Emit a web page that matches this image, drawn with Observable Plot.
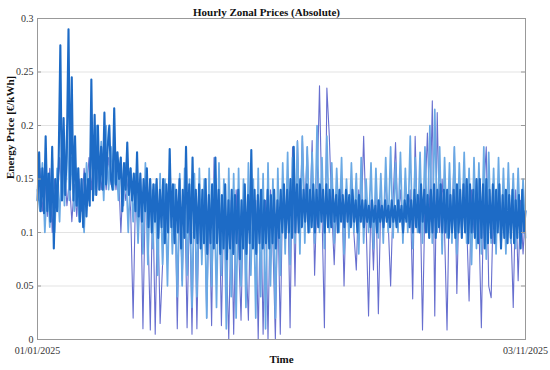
<!DOCTYPE html>
<html><head><meta charset="utf-8">
<script src="https://cdn.jsdelivr.net/npm/d3@7"></script>
<script src="https://cdn.jsdelivr.net/npm/@observablehq/plot@0.6"></script>
<style>body{margin:0;background:#fff}#chart svg{display:block}</style>
</head><body><div id="chart"></div>
<script>
const title = "Hourly Zonal Prices (Absolute)";
const xLabel = "Time";
const yLabel = "Energy Price [€/kWh]";
const startDate = "2025-01-01T00:00:00Z";
const endDate = "2025-11-03T00:00:00Z";
const yTicks = [0, 0.05, 0.1, 0.15, 0.2, 0.25, 0.3];
const zoneNames = ["Zone A", "Zone B", "Zone C"];

// Zone A (light blue), evenly spaced samples over the period
const zoneA = [
0.14,0.12,0.165,0.1,0.155,0.105,0.17,0.1,0.16,0.11,
0.18,0.125,0.2,0.13,0.17,0.12,0.16,0.11,0.15,0.1,
0.165,0.13,0.19,0.135,0.2,0.14,0.185,0.13,0.2,0.14,
0.18,0.14,0.175,0.13,0.17,0.125,0.165,0.1,0.16,0.11,
0.155,0.09,0.15,0.08,0.165,0.07,0.15,0.085,0.145,0.06,
0.155,0.07,0.15,0.05,0.16,0.08,0.145,0.04,0.155,0.05,
0.16,0.06,0.15,0.03,0.155,0.04,0.16,0.07,0.15,0.02,
0.16,0.05,0.15,0.03,0.165,0.06,0.15,0.01,0.16,0.04,
0.155,0.02,0.16,0.05,0.15,0.03,0.165,0.06,0.15,0.02,
0.16,0.04,0.155,0.01,0.165,0.05,0.15,0.02,0.16,0.06,
0.165,0.08,0.175,0.07,0.17,0.09,0.185,0.08,0.19,0.09,
0.18,0.1,0.175,0.09,0.2,0.1,0.17,0.085,0.19,0.1,
0.165,0.09,0.16,0.1,0.17,0.08,0.15,0.095,0.165,0.1,
0.155,0.08,0.17,0.09,0.15,0.1,0.165,0.085,0.16,0.095,
0.155,0.09,0.17,0.1,0.18,0.095,0.165,0.1,0.175,0.09,
0.16,0.1,0.19,0.085,0.17,0.1,0.175,0.09,0.18,0.1,
0.2,0.09,0.215,0.1,0.18,0.08,0.17,0.095,0.165,0.09,
0.18,0.08,0.165,0.1,0.175,0.09,0.16,0.07,0.17,0.085,
0.165,0.08,0.18,0.075,0.175,0.09,0.16,0.08,0.17,0.085,
0.16,0.08,0.165,0.09,0.155,0.085,0.16,0.09,0.15,0.095
];

// Zone B (violet blue)
const zoneB = [
0.13,0.16,0.12,0.15,0.115,0.16,0.1,0.15,0.12,0.17,
0.13,0.16,0.125,0.15,0.11,0.145,0.115,0.15,0.12,0.16,
0.135,0.17,0.14,0.18,0.135,0.17,0.14,0.165,0.14,0.17,
0.145,0.165,0.14,0.16,0.1,0.155,0.13,0.15,0.12,0.02,
0.14,0.1,0.15,0.01,0.14,0.11,0.009,0.14,0.005,0.13,
0.015,0.07,0.14,0.1,0.145,0.09,0.14,0.01,0.135,0.055,
0.14,0.011,0.13,0.005,0.14,0.01,0.13,0.09,0.14,0.02,
0.13,0.013,0.17,0.09,0.14,0.013,0.13,0.08,0,0.13,
0.005,0.14,0.09,0.018,0.13,0.08,0.018,0.14,0.09,0.13,
0,0.14,0.005,0.13,0,0.14,0.09,0,0.13,0.005,
0.14,0.1,0.15,0.011,0.18,0.05,0.186,0.11,0.19,0.12,
0.18,0.11,0.186,0.06,0.14,0.237,0.12,0.011,0.235,0.19,
0.12,0.07,0.14,0.11,0.15,0.05,0.14,0.11,0.145,0.1,
0.065,0.14,0.11,0.19,0.11,0.022,0.13,0.065,0.14,0.024,
0.13,0.1,0.15,0.11,0.05,0.13,0.184,0.11,0.14,0.1,
0.145,0.11,0.14,0.038,0.19,0.1,0.14,0.009,0.13,0.193,
0.11,0.223,0.022,0.212,0.1,0.15,0.1,0.009,0.14,0.11,
0.18,0.043,0.14,0.1,0.15,0.11,0.036,0.14,0.1,0.15,
0.11,0.011,0.14,0.18,0.05,0.039,0.14,0.1,0.15,0.11,
0.14,0.1,0.15,0.11,0.03,0.14,0.055,0.13,0.08,0.12
];

// Zone C (medium blue, dense core)
const zoneC = [
0.13,0.175,0.12,0.16,0.118,0.19,0.12,0.155,0.11,0.18,
0.085,0.15,0.12,0.17,0.275,0.13,0.207,0.135,0.18,0.29,
0.14,0.245,0.13,0.19,0.125,0.16,0.11,0.15,0.105,0.155,
0.115,0.15,0.125,0.243,0.13,0.21,0.135,0.2,0.14,0.18,
0.14,0.212,0.145,0.18,0.2,0.15,0.14,0.216,0.145,0.175,
0.15,0.17,0.12,0.165,0.14,0.184,0.135,0.16,0.13,0.155,
0.12,0.175,0.115,0.155,0.11,0.15,0.12,0.16,0.105,0.15,
0.1,0.145,0.11,0.15,0.095,0.14,0.105,0.15,0.09,0.145,
0.1,0.178,0.105,0.145,0.09,0.14,0.1,0.15,0.085,0.14,
0.095,0.18,0.1,0.145,0.09,0.17,0.095,0.14,0.09,0.145,
0.085,0.14,0.09,0.15,0.08,0.135,0.09,0.145,0.085,0.17,
0.09,0.14,0.08,0.135,0.085,0.145,0.075,0.13,0.085,0.14,
0.08,0.135,0.09,0.14,0.075,0.13,0.085,0.145,0.08,0.135,
0.09,0.177,0.085,0.14,0.08,0.135,0.09,0.14,0.085,0.13,
0.09,0.14,0.085,0.135,0.09,0.14,0.085,0.13,0.095,0.14,
0.1,0.145,0.095,0.14,0.1,0.15,0.095,0.18,0.1,0.145,
0.1,0.15,0.105,0.14,0.11,0.145,0.1,0.14,0.105,0.145,
0.1,0.14,0.105,0.145,0.11,0.14,0.1,0.145,0.105,0.14,
0.105,0.14,0.11,0.135,0.1,0.14,0.11,0.135,0.105,0.14,
0.11,0.135,0.105,0.14,0.11,0.13,0.1,0.135,0.11,0.13,
0.105,0.13,0.11,0.125,0.105,0.13,0.11,0.125,0.1,0.13,
0.11,0.125,0.105,0.13,0.11,0.125,0.105,0.13,0.11,0.125,
0.105,0.13,0.11,0.125,0.1,0.13,0.11,0.135,0.105,0.13,
0.1,0.14,0.105,0.135,0.1,0.145,0.11,0.14,0.1,0.135,
0.095,0.14,0.1,0.145,0.095,0.14,0.105,0.145,0.1,0.14,
0.1,0.14,0.095,0.135,0.1,0.14,0.095,0.145,0.1,0.14,
0.095,0.145,0.1,0.15,0.09,0.145,0.1,0.14,0.095,0.15,
0.09,0.15,0.095,0.145,0.085,0.15,0.09,0.14,0.095,0.145,
0.09,0.14,0.1,0.145,0.085,0.135,0.095,0.14,0.09,0.135,
0.095,0.14,0.09,0.13,0.095,0.135,0.085,0.14,0.1,0.12
];

const zoneColors = {"Zone A": "#6aa9e4", "Zone B": "#676fcf", "Zone C": "#1d6bc6"};
const zoneWidths = {"Zone A": 1.7, "Zone B": 1.1, "Zone C": 2.1};
const drawOrder = ["Zone B", "Zone A", "Zone C"];

const t0 = new Date(startDate), t1 = new Date(endDate);
function rows(name, values) {
  const n = values.length - 1;
  return values.map((v, i) => ({zone: name, time: new Date(+t0 + (t1 - t0) * i / n), price: v}));
}
const byZone = {"Zone A": rows("Zone A", zoneA), "Zone B": rows("Zone B", zoneB), "Zone C": rows("Zone C", zoneC)};

const plotW = 550, mL = 37, mR = 25;
const inner = plotW - mL - mR;

const chart = Plot.plot({
  width: plotW, height: 370,
  marginLeft: mL, marginRight: mR, marginTop: 18, marginBottom: 31,
  style: {fontFamily: "'Liberation Serif','Times New Roman',serif", fontSize: "10px", background: "#fff", color: "#222"},
  x: {type: "utc", domain: [t0, t1]},
  y: {domain: [0, 0.3]},
  marks: [
    Plot.gridY(yTicks, {stroke: "#e3e3e3", strokeOpacity: 1}),
    ...drawOrder.map(z => Plot.lineY(byZone[z], {x: "time", y: "price", stroke: zoneColors[z], strokeWidth: zoneWidths[z]})),
    Plot.frame({stroke: "#999"}),
    Plot.tickY(yTicks, {stroke: "#999", insetRight: inner - 4}),
    Plot.tickY(yTicks, {stroke: "#999", insetLeft: inner - 4}),
    Plot.axisY(yTicks, {tickSize: 0, tickPadding: 4, tickFormat: d => String(d), label: null, fontSize: 10, fill: "#333"}),
    Plot.axisX([t0, t1], {tickSize: 0, tickPadding: 7, tickFormat: d3.utcFormat("%d/%m/%Y"), label: null, fontSize: 10, fill: "#333"}),
    Plot.text([title], {frameAnchor: "top", dy: -10, dx: -15, fontWeight: "bold", fontSize: 11, fill: "#111"}),
    Plot.text([xLabel], {frameAnchor: "bottom", dy: 23, fontWeight: "bold", fontSize: 11, fill: "#111"}),
    Plot.text([yLabel], {frameAnchor: "left", dx: -27, rotate: -90, fontWeight: "bold", fontSize: 11, fill: "#111"})
  ]
});
document.getElementById("chart").append(chart);
</script>
</body></html>
